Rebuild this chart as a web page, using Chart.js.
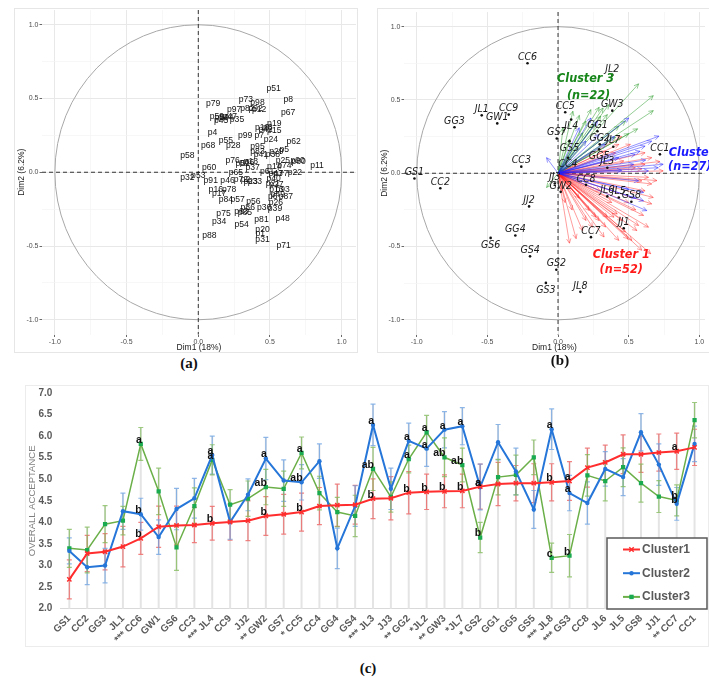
<!DOCTYPE html>
<html>
<head>
<meta charset="utf-8">
<script src="https://cdn.jsdelivr.net/npm/chart.js@4.4.1/dist/chart.umd.min.js"></script>
<style>
  body { margin: 0; background: #fff; width: 709px; height: 677px; position: relative; overflow: hidden; }
  .panel { position: absolute; }
  .tag { position: absolute; font: bold 15px "Liberation Serif", serif; color: #111; transform: translate(-50%, -50%); }
</style>
</head>
<body>
<div class="panel" style="left:14px;top:8px;width:344px;height:345px"><canvas id="pcaA"></canvas></div>
<div class="panel" style="left:377px;top:8px;width:332px;height:345px"><canvas id="pcaB"></canvas></div>
<div class="panel" style="left:25px;top:385px;width:684px;height:262px"><canvas id="lineC"></canvas></div>
<div class="tag" style="left:189px;top:363px">(a)</div>
<div class="tag" style="left:560px;top:360px">(b)</div>
<div class="tag" style="left:368px;top:668px">(c)</div>

<script>
/**************************************************************
 * Data - panel (a): consumer variables on Dim1 / Dim2
 **************************************************************/
const varNames = ['p51','p8','p73','p98','p79','p67','p97','p82','p92','p12','p59','p50','p44','p47','p45','p35',
  'p4','p99','p7','p10','p3','p19','p15','p42','p24','p55','p68','p28','p62','p95','p83','p5','p29','p58','p41',
  'p38','p76','p18','p66','p90','p80','p11','p60','p37','p74','p14','p25','p52','p65','p61','p22','p77','p43',
  'p32','p53','p91','p46','p72','p2','p23','p33','p40','p21','p27','p93','p13','p16','p78','p17','p87','p6',
  'p49','p84','p57','p56','p26','p30','p39','p86','p63','p85','p75','p34','p54','p81','p48','p20','p1','p31',
  'p88','p71'];
const varDim1 = [0.525,0.627,0.332,0.413,0.104,0.627,0.250,0.343,0.400,0.425,0.130,0.165,0.195,0.220,0.160,0.270,
  0.099,0.327,0.425,0.445,0.485,0.530,0.530,0.470,0.506,0.192,0.069,0.244,0.665,0.413,0.413,0.600,0.545,-0.076,0.437,
  0.520,0.239,0.367,0.340,0.693,0.700,0.828,0.076,0.379,0.600,0.530,0.590,0.310,0.262,0.480,0.674,0.577,0.540,
  -0.076,0.000,0.087,0.204,0.297,0.330,0.365,0.395,0.525,0.520,0.545,0.588,0.545,0.122,0.215,0.146,0.611,0.520,
  0.555,0.192,0.274,0.385,0.541,0.460,0.535,0.345,0.300,0.325,0.176,0.146,0.302,0.441,0.588,0.448,0.432,0.448,
  0.078,0.595];
const varDim2 = [0.567,0.495,0.490,0.472,0.463,0.407,0.423,0.432,0.430,0.425,0.377,0.372,0.370,0.380,0.352,0.355,
  0.269,0.251,0.246,0.300,0.305,0.328,0.282,0.290,0.224,0.215,0.179,0.179,0.208,0.174,0.140,0.156,0.140,0.111,0.118,
  0.118,0.079,0.072,0.068,0.079,0.072,0.043,0.032,0.032,0.043,0.040,0.079,0.060,-0.002,0.005,-0.002,-0.007,-0.010,
  -0.036,-0.025,-0.059,-0.059,-0.047,-0.050,-0.062,-0.062,-0.040,-0.080,-0.085,-0.115,-0.115,-0.115,-0.115,-0.142,-0.165,-0.165,
  -0.150,-0.183,-0.183,-0.199,-0.205,-0.240,-0.249,-0.240,-0.270,-0.272,-0.282,-0.334,-0.353,-0.323,-0.316,-0.386,-0.418,-0.459,
  -0.432,-0.499];

/**************************************************************
 * Data - panel (b): samples and cluster loadings
 **************************************************************/
const sampleNames = ['CC6','JL2','GG3','JL1','CC9','GW1','CC5','GW3','JL4','GG1','GS7','GG2','JL7','GS5','GG5','CC1',
  'CC3','CC4','JL3','GS1','CC2','JJ3','CC8','GW2','JL6','JL5','GS8','JJ2','JJ1','GG4','CC7','GS6','GS4','GS2','GS3','JL8'];
const sampleDim1 = [-0.216,0.384,-0.733,-0.540,-0.349,-0.430,0.051,0.384,0.093,0.279,-0.009,0.295,0.391,0.081,0.291,0.721,
  -0.260,0.070,0.349,-1.016,-0.833,-0.023,0.198,0.019,0.349,0.430,0.519,-0.205,0.465,-0.302,0.233,-0.477,-0.198,-0.012,-0.086,0.158];
const sampleDim2 = [0.750,0.671,0.314,0.395,0.400,0.340,0.416,0.427,0.366,0.287,0.237,0.197,0.181,0.219,0.163,0.129,
  0.045,0.106,0.038,-0.036,-0.102,-0.070,-0.079,-0.127,-0.158,-0.165,-0.194,-0.226,-0.375,-0.425,-0.436,-0.441,-0.567,-0.658,-0.748,-0.809];

const cluster1Dim1 = [0.656,0.495,0.558,0.640,0.081,0.128,0.174,0.198,0.221,0.244,0.267,0.291,0.326,0.337,0.349,0.396,
  0.419,0.430,0.453,0.477,0.523,0.593,0.570,0.605,0.663,0.674,0.663,0.640,0.616,0.744,0.700,0.593,0.547,0.465,0.512,
  0.430,0.407,0.337,0.616,0.663,0.616,0.593,0.050,0.100,0.150,0.380,0.500,0.300,0.550,0.720,0.450,0.030];
const cluster1Dim2 = [-0.549,-0.447,-0.391,-0.368,-0.477,-0.446,-0.391,-0.322,-0.254,-0.368,-0.300,-0.323,-0.435,-0.367,-0.300,-0.300,
  -0.278,-0.458,-0.323,-0.401,-0.458,-0.525,-0.356,-0.288,-0.209,-0.165,-0.073,-0.028,-0.120,0.016,-0.050,-0.052,0.038,0.084,0.197,
  0.197,0.140,0.151,0.140,0.106,0.061,0.030,-0.200,-0.250,-0.170,-0.200,-0.200,-0.120,-0.250,0.080,0.250,-0.120];
const cluster2Dim1 = [-0.081,0.233,0.279,0.500,0.714,0.663,0.616,0.580,0.744,0.709,0.640,0.570,0.605,0.628,0.605,0.550,
  0.198,0.337,0.430,0.547,0.535,0.291,0.450,0.400,0.620,0.500,0.150];
const cluster2Dim2 = [0.106,0.377,0.355,0.377,0.253,0.219,0.185,0.150,0.061,0.038,0.016,-0.052,-0.131,-0.255,-0.188,-0.170,
  0.219,0.197,0.106,0.129,0.061,0.264,0.020,0.250,0.090,-0.110,0.310];
const cluster3Dim1 = [0.570,0.674,0.674,0.563,0.477,0.430,0.360,0.319,0.291,0.233,0.151,0.105,0.035,0.198,0.302,0.349,
  0.407,0.174,0.081,-0.081,0.260,0.500];
const cluster3Dim2 = [0.610,0.529,0.427,0.303,0.355,0.321,0.468,0.445,0.450,0.434,0.395,0.423,0.310,0.355,0.389,0.400,
  0.246,0.276,0.231,-0.097,0.330,0.270];

/**************************************************************
 * Data - panel (c): overall acceptance per sample and cluster
 **************************************************************/
const acceptLabels = ['GS1','CC2','GG3','JL1','*** CC6','GW1','GS6','CC3','*** JL4','CC9','JJ2','** GW2','GS7','* CC5',
  'CC4','GG4','GS4','*** JL3','JJ3','** GG2','*JL2','** GW3','*JL7','* GS2','GG1','GG5','GS5','*** JL8','*** GS3',
  'CC8','JL6','JL5','GS8','JJ1','** CC7','CC1'];
const cluster1Mean = [2.68,3.28,3.32,3.44,3.63,3.90,3.93,3.94,3.98,4.01,4.04,4.15,4.19,4.24,4.38,4.40,4.41,4.55,4.56,
  4.69,4.71,4.72,4.73,4.83,4.89,4.91,4.91,4.93,4.96,5.27,5.39,5.58,5.58,5.62,5.65,5.74];
const cluster2Mean = [3.34,2.96,3.00,4.26,4.19,3.66,4.31,4.56,5.56,4.01,4.64,5.48,4.97,4.93,5.42,3.40,4.38,6.26,4.78,
  5.89,5.71,6.15,6.23,4.82,5.86,5.18,4.30,6.16,4.68,4.45,5.24,5.05,6.09,5.34,4.43,5.82];
const cluster3Mean = [3.40,3.36,3.96,4.04,5.82,4.72,3.42,4.38,5.45,4.41,4.55,4.82,4.78,5.61,4.68,4.24,4.15,5.24,4.59,
  5.47,6.09,5.51,5.33,3.65,5.05,5.10,5.51,3.18,3.23,5.09,4.96,5.28,4.91,4.60,4.51,6.37];
const cluster1Err = [0.45,0.42,0.42,0.47,0.37,0.48,0.45,0.41,0.39,0.42,0.46,0.45,0.46,0.44,0.43,0.49,0.45,0.46,0.50,
  0.49,0.41,0.38,0.39,0.52,0.50,0.41,0.45,0.43,0.45,0.45,0.40,0.45,0.42,0.43,0.42,0.42];
const cluster2Err = [0.30,0.40,0.40,0.42,0.37,0.40,0.48,0.46,0.44,0.40,0.37,0.49,0.48,0.41,0.40,0.47,0.47,0.48,0.48,
  0.41,0.41,0.42,0.43,0.53,0.41,0.54,0.44,0.47,0.41,0.49,0.40,0.43,0.43,0.48,0.38,0.41];
const cluster3Err = [0.44,0.53,0.43,0.33,0.38,0.54,0.53,0.42,0.35,0.35,0.41,0.41,0.41,0.37,0.39,0.34,0.48,0.50,0.35,
  0.32,0.39,0.45,0.39,0.35,0.41,0.46,0.40,0.34,0.49,0.48,0.46,0.45,0.44,0.37,0.36,0.41];
const cluster1Letters = ['','','','','b','','','','b','','','b','','b','','','','b','','b','b','b','b','a','','','','b','a','','','','','','a',''];
const cluster2Letters = ['','','','','b','','','','a','','','a','','ab','','','','a','','a','a','a','a','a','','','','a','a','','','','','','b',''];
const cluster3Letters = ['','','','','a','','','','a','','','ab','','a','','','','ab','','a','a','ab','ab','b','','','','c','b','','','','','','b',''];

/**************************************************************
 * Shared helpers for the two correlation-circle panels
 **************************************************************/
Chart.defaults.font.family = '"Liberation Sans", Arial, sans-serif';
const gridTicks = [-1, -0.75, -0.5, -0.25, 0, 0.25, 0.5, 0.75, 1];
const isMajor = v => Math.abs(v * 2 - Math.round(v * 2)) < 1e-9;

function circleScale(min, max, title, size, horizontal) {
  return {
    type: 'linear', min, max,
    afterBuildTicks: s => { s.ticks = gridTicks.map(v => ({ value: v })); },
    afterFit: s => {
      if (horizontal) s.height = size; else s.width = size;
      s.paddingLeft = s.paddingRight = s.paddingTop = s.paddingBottom = 0;
    },
    grid: {
      color: c => isMajor(c.tick.value) ? '#e8e8e8' : '#f3f3f3',
      lineWidth: c => isMajor(c.tick.value) ? 1 : 0.7,
      tickColor: c => isMajor(c.tick.value) ? '#444' : 'rgba(0,0,0,0)',
      tickLength: 2.5, tickWidth: 0.8
    },
    border: { display: false },
    ticks: {
      autoSkip: false, maxRotation: 0, padding: 1,
      font: { size: 7 }, color: '#4d4d4d',
      callback: v => isMajor(v) ? v.toFixed(1) : ''
    },
    title: {
      display: true, text: title, color: '#222', font: { size: 8.5 },
      padding: horizontal ? { top: 0, bottom: 0 } : { top: 3, bottom: 0 }
    }
  };
}

const circlePlugin = {
  id: 'circle',
  beforeDraw(chart) {
    const ctx = chart.ctx;
    ctx.save();
    ctx.strokeStyle = '#e6e6e6';
    ctx.lineWidth = 1;
    ctx.strokeRect(0.5, 0.5, chart.width - 1 + (chart.canvas.id === 'pcaB' ? 4 : 0), chart.height - 1);
    ctx.restore();
  },
  beforeDatasetsDraw(chart) {
    const { ctx, chartArea: a, scales: { x, y } } = chart;
    ctx.save();
    ctx.strokeStyle = '#a8a8a8';
    ctx.lineWidth = 1;
    ctx.beginPath();
    ctx.ellipse(x.getPixelForValue(0), y.getPixelForValue(0),
      x.getPixelForValue(1) - x.getPixelForValue(0), y.getPixelForValue(0) - y.getPixelForValue(1), 0, 0, Math.PI * 2);
    ctx.stroke();
    ctx.strokeStyle = '#333';
    ctx.setLineDash([4, 3]);
    ctx.beginPath();
    ctx.moveTo(x.getPixelForValue(0), a.top); ctx.lineTo(x.getPixelForValue(0), a.bottom);
    ctx.moveTo(a.left, y.getPixelForValue(0)); ctx.lineTo(a.right, y.getPixelForValue(0));
    ctx.stroke();
    ctx.restore();
  }
};

/**************************************************************
 * Panel (a)
 **************************************************************/
new Chart(document.getElementById('pcaA'), {
  type: 'scatter',
  data: {
    datasets: [{ data: varDim1.map((v, i) => ({ x: v, y: varDim2[i] })), pointRadius: 0 }]
  },
  options: {
    responsive: true, maintainAspectRatio: false, animation: false,
    layout: { padding: { top: 2, right: 2, left: 0, bottom: 0 } },
    plugins: { legend: { display: false }, tooltip: { enabled: false } },
    scales: {
      x: circleScale(-1.09, 1.1, 'Dim1 (18%)', 18.5, true),
      y: circleScale(-1.1, 1.1, 'Dim2 (6.2%)', 28, false)
    }
  },
  plugins: [circlePlugin, {
    id: 'varLabels',
    afterDatasetsDraw(chart) {
      const ctx = chart.ctx;
      ctx.save();
      ctx.font = '8.6px "Liberation Sans", Arial, sans-serif';
      ctx.fillStyle = '#111';
      ctx.textAlign = 'center';
      ctx.textBaseline = 'middle';
      chart.getDatasetMeta(0).data.forEach((pt, i) => ctx.fillText(varNames[i], pt.x, pt.y));
      ctx.restore();
    }
  }]
});

/**************************************************************
 * Panel (b)
 **************************************************************/
function drawArrow(ctx, x0, y0, x1, y1) {
  const ang = Math.atan2(y1 - y0, x1 - x0), h = 5;
  ctx.beginPath();
  ctx.moveTo(x0, y0); ctx.lineTo(x1, y1);
  ctx.moveTo(x1 - h * Math.cos(ang - 0.45), y1 - h * Math.sin(ang - 0.45));
  ctx.lineTo(x1, y1);
  ctx.lineTo(x1 - h * Math.cos(ang + 0.45), y1 - h * Math.sin(ang + 0.45));
  ctx.stroke();
}

const arrowGroups = [
  { xs: cluster1Dim1, ys: cluster1Dim2, color: 'rgba(255,30,30,0.55)' },
  { xs: cluster3Dim1, ys: cluster3Dim2, color: 'rgba(30,150,30,0.6)' },
  { xs: cluster2Dim1, ys: cluster2Dim2, color: 'rgba(30,30,255,0.6)' }
];
const labelsBelow = new Set(['JL4', 'GS5', 'GG5', 'CC4', 'GS6', 'GS3']);
const clusterTags = [
  { text: 'Cluster 3', x: 0.195, y: 0.647, color: '#17861a', align: 'center' },
  { text: '(n=22)', x: 0.216, y: 0.532, color: '#17861a', align: 'center' },
  { text: 'Cluster 2', x: 0.784, y: 0.139, color: '#1a1aff', align: 'left' },
  { text: '(n=27)', x: 0.932, y: 0.044, color: '#1a1aff', align: 'center' },
  { text: 'Cluster 1', x: 0.447, y: -0.553, color: '#ff1a1a', align: 'center' },
  { text: '(n=52)', x: 0.447, y: -0.661, color: '#ff1a1a', align: 'center' }
];

new Chart(document.getElementById('pcaB'), {
  type: 'scatter',
  data: {
    datasets: [{
      data: sampleDim1.map((v, i) => ({ x: v, y: sampleDim2[i] })),
      pointRadius: 1.3, backgroundColor: '#111', borderWidth: 0
    }]
  },
  options: {
    responsive: true, maintainAspectRatio: false, animation: false,
    layout: { padding: { top: 2, right: 0, left: 0, bottom: 0 } },
    plugins: { legend: { display: false }, tooltip: { enabled: false } },
    scales: {
      x: circleScale(-1.09, 1.04, 'Dim1 (18%)', 18.5, true),
      y: circleScale(-1.1, 1.1, 'Dim2 (6.2%)', 27, false)
    }
  },
  plugins: [circlePlugin, {
    id: 'arrows',
    beforeDatasetsDraw(chart) {
      const { ctx, scales: { x, y } } = chart;
      const ox = x.getPixelForValue(0), oy = y.getPixelForValue(0);
      ctx.save();
      ctx.lineWidth = 0.8;
      arrowGroups.forEach(g => {
        ctx.strokeStyle = g.color;
        g.xs.forEach((v, i) => drawArrow(ctx, ox, oy, x.getPixelForValue(v), y.getPixelForValue(g.ys[i])));
      });
      ctx.restore();
    },
    afterDatasetsDraw(chart) {
      const { ctx, scales: { x, y } } = chart;
      ctx.save();
      ctx.font = 'italic 10.5px "Liberation Sans Narrow", "DejaVu Sans Condensed", sans-serif';
      ctx.fillStyle = '#1a1a1a';
      ctx.textAlign = 'center';
      ctx.textBaseline = 'middle';
      chart.getDatasetMeta(0).data.forEach((pt, i) => {
        const dy = labelsBelow.has(sampleNames[i]) ? 7 : -6;
        ctx.fillText(sampleNames[i], pt.x, pt.y + dy);
      });
      ctx.font = 'bold italic 12.5px "Liberation Sans Narrow", "DejaVu Sans Condensed", sans-serif';
      clusterTags.forEach(t => {
        ctx.fillStyle = t.color;
        ctx.textAlign = t.align;
        ctx.fillText(t.text, x.getPixelForValue(t.x), y.getPixelForValue(t.y));
      });
      ctx.restore();
    }
  }]
});

/**************************************************************
 * Panel (c)
 **************************************************************/
const seriesMeans = [cluster1Mean, cluster2Mean, cluster3Mean];
const seriesErrors = [cluster1Err, cluster2Err, cluster3Err];
const seriesLetters = [cluster1Letters, cluster2Letters, cluster3Letters];
const errColors = ['rgba(238,90,90,0.75)', 'rgba(105,160,225,0.75)', 'rgba(125,185,85,0.75)'];
const legendItems = [
  { text: 'Cluster1', line: '#ff2d2d', marker: '#ff2d2d', style: 'cross' },
  { text: 'Cluster2', line: '#2576d8', marker: '#2576d8', style: 'circle' },
  { text: 'Cluster3', line: '#6aaf48', marker: '#1aaa50', style: 'rect' }
];

function drawMarker(ctx, style, color, px, py) {
  ctx.fillStyle = color; ctx.strokeStyle = color; ctx.lineWidth = 1.5;
  ctx.beginPath();
  if (style === 'cross') {
    ctx.moveTo(px - 2.2, py - 2.2); ctx.lineTo(px + 2.2, py + 2.2);
    ctx.moveTo(px + 2.2, py - 2.2); ctx.lineTo(px - 2.2, py + 2.2);
    ctx.stroke();
  } else if (style === 'circle') {
    ctx.arc(px, py, 2.2, 0, Math.PI * 2); ctx.fill();
  } else {
    ctx.fillRect(px - 2.2, py - 2.2, 4.4, 4.4);
  }
}

new Chart(document.getElementById('lineC'), {
  type: 'line',
  data: {
    labels: acceptLabels,
    datasets: [
      { label: 'Cluster1', data: cluster1Mean, borderColor: '#ff2d2d', backgroundColor: '#ff2d2d',
        pointStyle: 'crossRot', pointRadius: 3, pointBorderWidth: 1.5, borderWidth: 2, tension: 0 },
      { label: 'Cluster2', data: cluster2Mean, borderColor: '#2576d8', backgroundColor: '#2576d8',
        pointStyle: 'circle', pointRadius: 2.2, pointBorderWidth: 0, borderWidth: 2, tension: 0 },
      { label: 'Cluster3', data: cluster3Mean, borderColor: '#6aaf48', backgroundColor: '#1aaa50',
        pointBorderColor: '#1aaa50', pointStyle: 'rect', pointRadius: 3, pointBorderWidth: 0, borderWidth: 1.5, tension: 0 }
    ]
  },
  options: {
    responsive: true, maintainAspectRatio: false, animation: false,
    layout: { padding: { top: 8, right: 4, left: 0, bottom: 0 } },
    plugins: { legend: { display: false }, tooltip: { enabled: false } },
    scales: {
      x: {
        offset: true,
        grid: { display: false, drawTicks: false },
        border: { display: true, color: '#d9d9d9', width: 1 },
        ticks: { autoSkip: false, minRotation: 45, maxRotation: 45, padding: 4,
          font: { weight: 'bold', size: 10 }, color: '#595959' },
        afterFit: s => { s.height = 38.3; s.paddingLeft = s.paddingRight = 0; }
      },
      y: {
        min: 2, max: 7,
        grid: { display: false, drawTicks: false },
        border: { display: false },
        ticks: { stepSize: 0.5, padding: 8, callback: v => v.toFixed(1),
          font: { weight: 'bold', size: 10 }, color: '#595959' },
        title: { display: true, text: 'OVERALL ACCEPTANCE', color: '#7f7f7f', font: { size: 9.5 },
          padding: { top: 2, bottom: 0 } },
        afterFit: s => { s.width = 35.4; s.paddingTop = s.paddingBottom = 0; }
      }
    }
  },
  plugins: [{
    id: 'errorBars',
    beforeDraw(chart) {
      const ctx = chart.ctx;
      ctx.save();
      ctx.strokeStyle = '#ececec';
      ctx.strokeRect(0.5, 0.5, chart.width - 1, chart.height - 1);
      ctx.restore();
    },
    beforeDatasetsDraw(chart) {
      const { ctx, scales: { x, y } } = chart;
      ctx.save();
      ctx.strokeStyle = '#e4e4e4';
      ctx.lineWidth = 2;
      acceptLabels.forEach((_, i) => {
        const top = Math.max(...seriesMeans.map((m, s) => m[i] + seriesErrors[s][i]));
        const px = x.getPixelForValue(i);
        ctx.beginPath();
        ctx.moveTo(px, y.getPixelForValue(2));
        ctx.lineTo(px, y.getPixelForValue(top));
        ctx.stroke();
      });
      ctx.lineWidth = 1.2;
      seriesMeans.forEach((m, s) => {
        ctx.strokeStyle = errColors[s];
        m.forEach((v, i) => {
          const px = x.getPixelForValue(i);
          const hi = y.getPixelForValue(v + seriesErrors[s][i]);
          const lo = y.getPixelForValue(v - seriesErrors[s][i]);
          ctx.beginPath();
          ctx.moveTo(px, hi); ctx.lineTo(px, lo);
          ctx.moveTo(px - 2.5, hi); ctx.lineTo(px + 2.5, hi);
          ctx.moveTo(px - 2.5, lo); ctx.lineTo(px + 2.5, lo);
          ctx.stroke();
        });
      });
      ctx.restore();
    },
    afterDatasetsDraw(chart) {
      const { ctx, scales: { x, y } } = chart;
      ctx.save();
      ctx.font = 'bold 10.5px "Liberation Sans", Arial, sans-serif';
      ctx.fillStyle = '#111';
      ctx.textAlign = 'right';
      ctx.textBaseline = 'middle';
      seriesLetters.forEach((letters, s) => {
        letters.forEach((t, i) => {
          if (t) ctx.fillText(t, x.getPixelForValue(i) + 1, y.getPixelForValue(seriesMeans[s][i]) - 4);
        });
      });
      ctx.restore();
    },
    afterDraw(chart) {
      const ctx = chart.ctx;
      ctx.save();
      ctx.fillStyle = '#fff';
      ctx.fillRect(582, 153, 100, 71);
      ctx.strokeStyle = '#595959';
      ctx.lineWidth = 1.5;
      ctx.strokeRect(582, 153, 100, 71);
      ctx.font = 'bold 12px "Liberation Sans", Arial, sans-serif';
      ctx.textBaseline = 'middle';
      legendItems.forEach((item, k) => {
        const ly = 164.5 + k * 23.7;
        ctx.strokeStyle = item.line;
        ctx.lineWidth = 2;
        ctx.beginPath(); ctx.moveTo(598, ly); ctx.lineTo(615, ly); ctx.stroke();
        drawMarker(ctx, item.style, item.marker, 606.5, ly);
        ctx.fillStyle = '#595959';
        ctx.fillText(item.text, 617, ly);
      });
      ctx.restore();
    }
  }]
});
</script>
</body>
</html>
